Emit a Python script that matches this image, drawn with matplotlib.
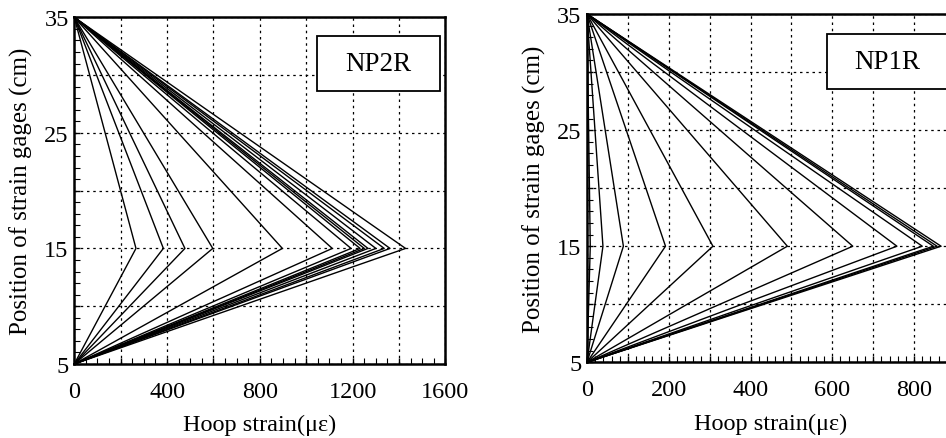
import matplotlib
matplotlib.use("Agg")
import matplotlib.pyplot as plt
from matplotlib.ticker import MultipleLocator, FuncFormatter
from matplotlib.patches import Rectangle

plt.rcParams['font.family'] = ['Liberation Serif', 'DejaVu Serif']
plt.rcParams['mathtext.fontset'] = 'stix'

# Gauge positions (cm)
positions = [5, 15, 35]

# Peak hoop strain at 15 cm for each load step (micro-strain)
np2r_peaks = [266, 384, 477, 597, 897, 1112, 1193, 1232, 1250, 1266, 1300, 1336, 1361, 1428]
np1r_peaks = [8, 39, 89, 192, 308, 490, 650, 758, 820, 847, 856, 866]

# Strain at bottom (5 cm) and top (35 cm) gauges
end_strain_bottom = 0
end_strain_top = 0

panels = [
    dict(name="NP2R", peaks=np2r_peaks, xlim=(0, 1600), xgrid=200, xlabel_step=400, xminor=50,
         rect=[0.0785, 0.1686, 0.3924, 0.7897], box=(0.653, 0.788, 0.332, 0.157)),
    dict(name="NP1R", peaks=np1r_peaks, xlim=(0, 900), xgrid=100, xlabel_step=200, xminor=20,
         rect=[0.6205, 0.1724, 0.3890, 0.7934], box=(0.651, 0.785, 0.332, 0.158)),
]

fig = plt.figure(figsize=(9.46, 4.39), dpi=100)

for p in panels:
    ax = fig.add_axes(p["rect"])
    for pk in p["peaks"]:
        xs = [end_strain_bottom, pk, end_strain_top]
        ax.plot(xs, positions, color="black", lw=1.0, clip_on=False, zorder=3)
    ax.set_xlim(*p["xlim"])
    ax.set_ylim(5, 35)

    ax.xaxis.set_major_locator(MultipleLocator(p["xgrid"]))
    ax.xaxis.set_minor_locator(MultipleLocator(p["xminor"]))
    step = p["xlabel_step"]
    ax.xaxis.set_major_formatter(FuncFormatter(
        lambda v, pos, s=step: f"{int(round(v))}" if abs(v / s - round(v / s)) < 1e-6 else ""))
    ax.yaxis.set_major_locator(MultipleLocator(5))
    ax.yaxis.set_minor_locator(MultipleLocator(1))
    ax.yaxis.set_major_formatter(FuncFormatter(
        lambda v, pos: f"{int(round(v))}" if int(round(v)) % 10 == 5 else ""))

    ax.grid(True, which="major", color="black", linestyle=(0, (2.0, 3.0)), lw=0.9)
    ax.tick_params(which="both", direction="in", top=False, right=False, labelsize=17.5)
    ax.tick_params(which="major", length=4, width=1.0)
    ax.tick_params(which="minor", length=4, width=0.8)
    ax.tick_params(axis="x", pad=12)
    ax.tick_params(axis="y", pad=4)
    for s in ax.spines.values():
        s.set_linewidth(1.8)

    ax.set_xlabel("Hoop strain(με)", fontsize=17.5, labelpad=9)
    ax.set_ylabel("Position of strain gages (cm)", fontsize=18, labelpad=8)

    bx, by, bw, bh = p["box"]
    ax.add_patch(Rectangle((bx, by), bw, bh, transform=ax.transAxes, fill=True,
                           facecolor="white", edgecolor="black", lw=1.3, zorder=5))
    ax.text(bx + bw / 2, by + bh / 2, p["name"], transform=ax.transAxes,
            ha="center", va="center", fontsize=19.5, zorder=6)

fig.savefig("out.png", dpi=100)
